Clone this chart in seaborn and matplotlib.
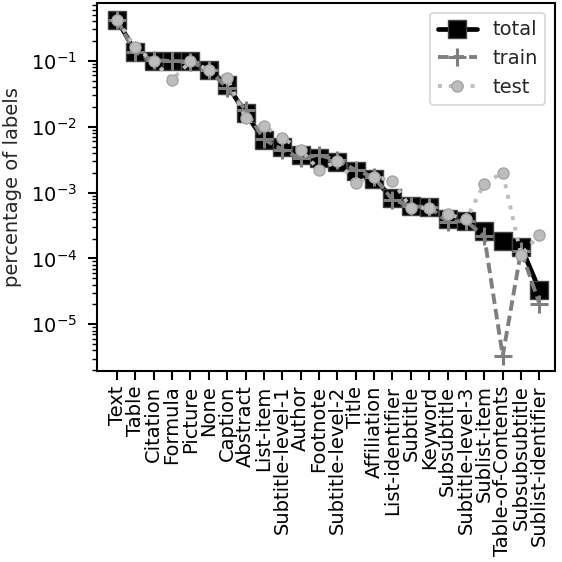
import numpy as np
import pandas as pd
import matplotlib
matplotlib.use('Agg')
import matplotlib.pyplot as plt
import seaborn as sns

labels = ['Text', 'Table', 'Citation', 'Formula', 'Picture', 'None', 'Caption',
          'Abstract', 'List-item', 'Subtitle-level-1', 'Author', 'Footnote',
          'Subtitle-level-2', 'Title', 'Affiliation', 'List-identifier',
          'Subtitle', 'Keyword', 'Subsubtitle', 'Subtitle-level-3',
          'Sublist-item', 'Table-of-Contents', 'Subsubsubtitle',
          'Sublist-identifier']
total = [0.42, 0.138, 0.101, 0.098, 0.098, 0.073, 0.043, 0.016, 0.0063,
         0.0050, 0.0037, 0.0033, 0.0029, 0.0021, 0.0016, 0.00082, 0.00063,
         0.00060, 0.00039, 0.00037, 0.00026, 0.000186, 0.000151, 3.3e-5]
train = [0.42, 0.135, 0.102, 0.10, 0.097, 0.072, 0.039, 0.018, 0.0064,
         0.0045, 0.0033, 0.0037, 0.0031, 0.0022, 0.0017, 0.00078, 0.00062,
         0.00060, 0.00036, 0.00037, 0.000215, 3.3e-6, 0.00013, 2.05e-5]
test = [0.42, 0.16, 0.098, 0.052, 0.098, 0.073, 0.055, 0.0134, 0.0102,
        0.0068, 0.0045, 0.0022, 0.0030, 0.00141, 0.00174, 0.00151, 0.00058,
        0.00058, 0.00047, 0.00039, 0.00136, 0.0020, 0.000113, 0.000229]

df = pd.DataFrame({'label': labels, 'total': total, 'train': train, 'test': test})

sns.set_style('ticks')
plt.rcParams['font.family'] = ['DejaVu Sans']
plt.rcParams['font.size'] = 14
plt.rcParams['axes.linewidth'] = 1.5
plt.rcParams['xtick.major.size'] = 6.5
plt.rcParams['ytick.major.size'] = 6.5
plt.rcParams['ytick.minor.size'] = 3.6
plt.rcParams['xtick.major.width'] = 1.5
plt.rcParams['ytick.major.width'] = 1.5
plt.rcParams['ytick.minor.width'] = 1.0
plt.rcParams['ytick.major.pad'] = 8
plt.rcParams['xtick.major.pad'] = 4
plt.rcParams['xtick.color'] = 'black'
plt.rcParams['ytick.color'] = 'black'
plt.rcParams['axes.edgecolor'] = 'black'

fig = plt.figure(figsize=(5.62, 5.62), dpi=100)
ax = fig.add_axes([0.1726, 0.340, 0.815, 0.655])

sns.lineplot(data=df, x='label', y='total', ax=ax, color='black', lw=3.4,
             marker='s', ms=13, mec='#444444', mew=1.0, label='total', sort=False)
sns.lineplot(data=df, x='label', y='train', ax=ax, color='#7f7f7f', lw=2.8,
             marker='+', ms=13, mec='#7f7f7f', mew=2.2, label='train', sort=False)
ax.lines[-1].set_dashes([2.7, 1.3])
sns.lineplot(data=df, x='label', y='test', ax=ax, color='#bdbdbd', lw=2.8,
             marker='o', ms=8, mfc='#bdbdbd', mec='#a5a5a5', mew=1.0,
             label='test', sort=False)
ax.lines[-1].set_dashes([1, 1.8])

ax.set_yscale('log')
ax.set_ylim(10 ** -5.71, 10 ** -0.118)
ax.set_xlim(-1.09, 23.85)
ax.set_xlabel('')
ax.set_ylabel('percentage of labels', fontsize=14, labelpad=6)
plt.xticks(rotation=90, fontsize=14)
plt.yticks(fontsize=14)
leg = ax.legend(loc='upper right', fontsize=14, handlelength=2.0)
leg.get_frame().set_edgecolor('#cccccc')
leg.get_frame().set_linewidth(1.2)

fig.savefig('out.png', dpi=100)
